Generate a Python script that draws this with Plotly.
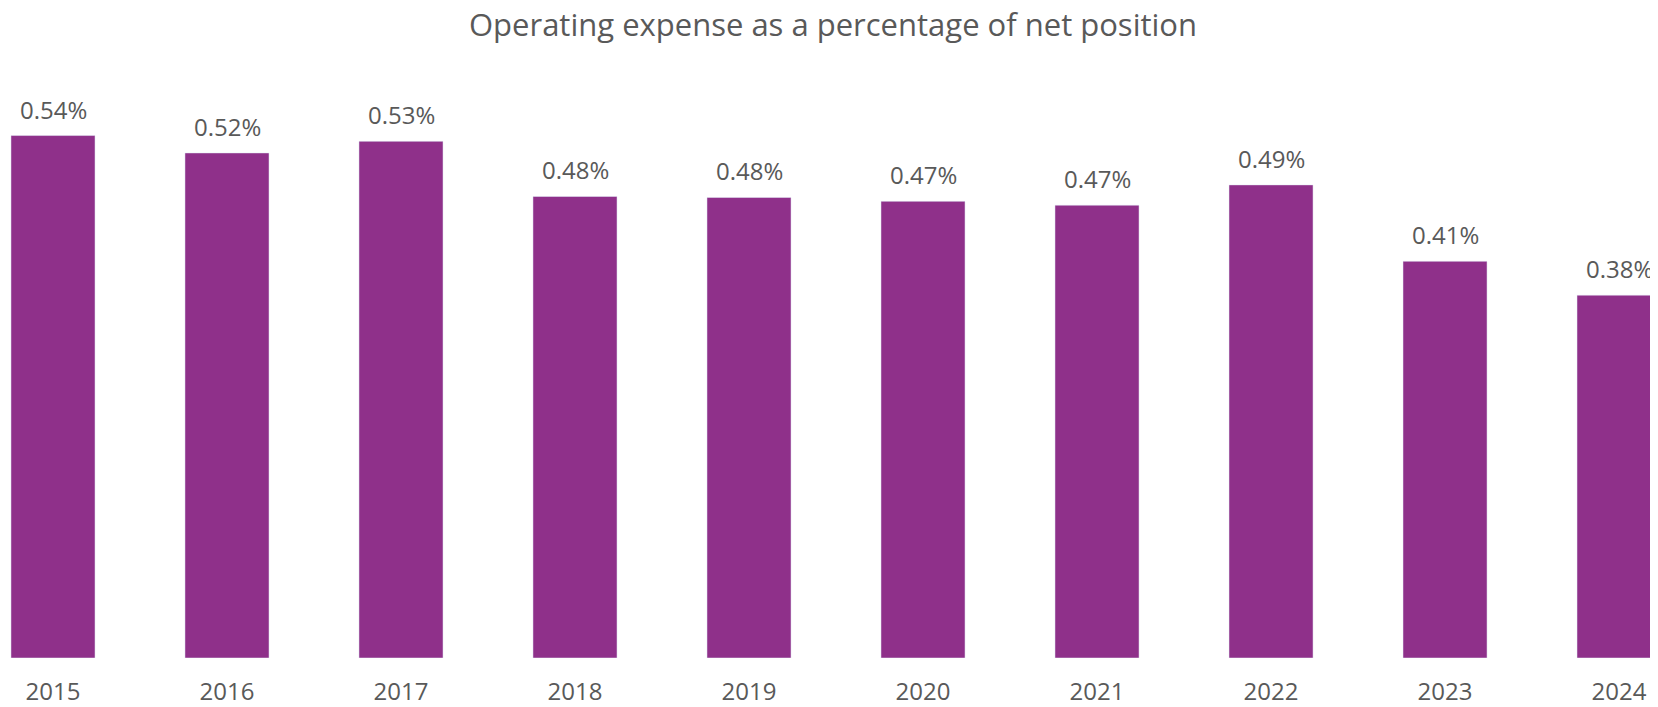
import plotly.graph_objects as go

# Data (percent of net position)
years = ['2015', '2016', '2017', '2018', '2019', '2020', '2021', '2022', '2023', '2024']
expense_pct = [0.540, 0.522, 0.534, 0.477, 0.476, 0.472, 0.468, 0.489, 0.410, 0.375]

bar_color = '#8F308A'
text_color = '#595959'
font_family = 'Open Sans'

fig = go.Figure(go.Bar(
    x=years,
    y=expense_pct,
    marker_color=bar_color,
    width=0.483,
    hovertemplate='%{x}: %{y:.2f}%<extra></extra>'))

# value labels above each bar (x by category index: numeric-looking
# strings would be read as numbers on a category axis)
for i, v in enumerate(expense_pct):
    fig.add_annotation(x=i, y=v, xref='x', yref='y', text=f'{v:.2f}%',
                       showarrow=False, yanchor='bottom', yshift=8,
                       font=dict(family=font_family, size=24, color=text_color))

# page body has an 8px margin, so the figure is a bit smaller than the window
fig.update_layout(
    title=dict(text='Operating expense as a percentage of net position',
               x=0.5, xanchor='center', xref='paper', y=1 - 17 / 699, yanchor='middle',
               font=dict(family=font_family, size=31, color=text_color)),
    width=1650, height=699,
    margin=dict(l=0, r=0, t=72, b=47),
    plot_bgcolor='white', paper_bgcolor='white',
    showlegend=False,
    xaxis=dict(type='category', range=[-0.2586, 9.224], showgrid=False,
               showline=False, zeroline=False,
               ticks='outside', ticklen=12, tickcolor='rgba(0,0,0,0)',
               tickfont=dict(family=font_family, size=24, color=text_color)),
    yaxis=dict(range=[0, 0.5974], showticklabels=False, showgrid=False, zeroline=False),
)

fig.write_html("out.html")
